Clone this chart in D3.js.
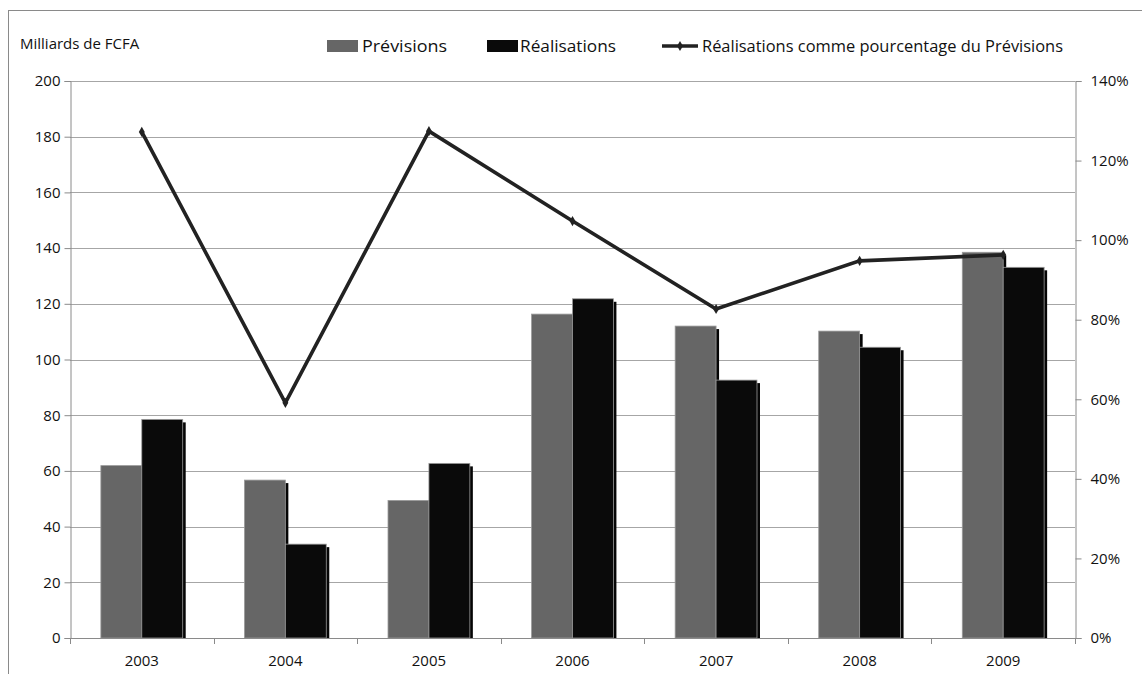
<!DOCTYPE html>
<html>
<head>
<meta charset="utf-8">
<script src="https://cdn.jsdelivr.net/npm/d3@7"></script>
<style>
  html, body { margin: 0; padding: 0; background: #fff; }
  svg text { font-family: "Open Sans", "DejaVu Sans", sans-serif; fill: #111; }
</style>
</head>
<body>
<svg id="chart" width="1142" height="674"></svg>
<script>
// Budget forecasts vs. outturn, billions of FCFA
const years = ["2003", "2004", "2005", "2006", "2007", "2008", "2009"];
const previsions = [61.9, 56.7, 49.4, 116.3, 112.0, 110.2, 138.5];
const realisations = [78.5, 33.7, 62.7, 121.8, 92.6, 104.4, 133.1];
// Outturn as a share of forecast
const pourcentage = [1.272, 0.591, 1.274, 1.048, 0.827, 0.948, 0.963];

const leftTicks = [0, 20, 40, 60, 80, 100, 120, 140, 160, 180, 200];
const rightTicks = [0, 0.2, 0.4, 0.6, 0.8, 1.0, 1.2, 1.4];

const svg = d3.select("#chart");
const W = 1142, H = 674;
const m = { left: 70, right: 1075, top: 81, bottom: 638 };

// outer frame
svg.append("rect")
  .attr("x", 8.5).attr("y", 10.5)
  .attr("width", W + 10).attr("height", H + 10)
  .attr("fill", "none").attr("stroke", "#8a8a8a").attr("stroke-width", 1);

const x = d3.scaleBand().domain(years).range([m.left, m.right]).paddingInner(0).paddingOuter(0);
const y = d3.scaleLinear().domain([0, 200]).range([m.bottom, m.top]);
const yR = d3.scaleLinear().domain([0, 1.4]).range([m.bottom, m.top]);

// gridlines
svg.append("g")
  .selectAll("line").data(leftTicks.slice(1)).join("line")
  .attr("x1", m.left).attr("x2", m.right)
  .attr("y1", d => Math.round(y(d)) + 0.5).attr("y2", d => Math.round(y(d)) + 0.5)
  .attr("stroke", "#a6a6a6").attr("stroke-width", 1);

// bars
const gap = 0.215; // fraction of band on each side
const barW = x.bandwidth() * (1 - 2 * gap) / 2;
const defs = svg.append("defs");
defs.append("clipPath").attr("id", "plotclip")
  .append("rect").attr("x", m.left).attr("y", 0).attr("width", m.right - m.left).attr("height", m.bottom + 1);

const barsG = svg.append("g").attr("clip-path", "url(#plotclip)");
const series = [
  { vals: previsions, color: "#666666", off: 0 },
  { vals: realisations, color: "#0a0a0a", off: 1 }
];
// drop shadows first
series.forEach(s => {
  barsG.append("g").selectAll("rect").data(s.vals).join("rect")
    .attr("x", (d, i) => x(years[i]) + x.bandwidth() * gap + s.off * barW + 3)
    .attr("y", d => y(d) + 3)
    .attr("width", barW)
    .attr("height", d => m.bottom - y(d))
    .attr("fill", "#050505");
});
series.forEach(s => {
  barsG.append("g").selectAll("rect").data(s.vals).join("rect")
    .attr("x", (d, i) => x(years[i]) + x.bandwidth() * gap + s.off * barW)
    .attr("y", d => y(d))
    .attr("width", barW)
    .attr("height", d => m.bottom - y(d))
    .attr("fill", s.color)
    .attr("stroke", "#9a9a9a").attr("stroke-width", 0.8);
});

// axes
const axL = svg.append("g").attr("transform", `translate(${m.left + 0.5},0)`)
  .call(d3.axisLeft(y).tickValues(leftTicks).tickSize(6).tickPadding(4).tickFormat(d3.format("d")));
const axR = svg.append("g").attr("transform", `translate(${m.right + 0.5},0)`)
  .call(d3.axisRight(yR).tickValues(rightTicks).tickSize(6).tickPadding(9).tickFormat(d => Math.round(d * 100) + "%"));
const axB = svg.append("g").attr("transform", `translate(0,${m.bottom + 0.5})`)
  .call(d3.axisBottom(x).tickSize(0).tickPadding(17));
// category separators on the x axis
svg.append("g").selectAll("line").data(d3.range(years.length + 1)).join("line")
  .attr("x1", i => Math.round(m.left + i * x.step()) + 0.5)
  .attr("x2", i => Math.round(m.left + i * x.step()) + 0.5)
  .attr("y1", m.bottom).attr("y2", m.bottom + 6)
  .attr("stroke", "#8a8a8a");

[axL, axR, axB].forEach(a => {
  a.selectAll("path, line").attr("stroke", "#8a8a8a");
  a.selectAll("text").style("font-size", "15px").attr("fill", "#111");
  a.select(".domain").attr("stroke", "#8a8a8a");
});
axB.select(".domain").attr("d", `M${m.left},0H${m.right}`);

// percentage line
const line = d3.line().x((d, i) => x(years[i]) + x.bandwidth() / 2).y(d => yR(d));
svg.append("path").datum(pourcentage)
  .attr("d", line).attr("fill", "none")
  .attr("stroke", "#222").attr("stroke-width", 3.6).attr("stroke-linejoin", "miter");
svg.append("g").selectAll("path").data(pourcentage).join("path")
  .attr("d", d3.symbol().type(d3.symbolDiamond).size(30))
  .attr("transform", (d, i) => `translate(${x(years[i]) + x.bandwidth() / 2},${yR(d)})`)
  .attr("fill", "#222");

// unit label
svg.append("text").attr("x", 20).attr("y", 49).style("font-size", "15px").text("Milliards de FCFA");

// legend
const lg = svg.append("g");
const legText = (xPos, w, t) => lg.append("text").attr("x", xPos).attr("y", 52)
  .style("font-size", "16px").attr("textLength", w).attr("lengthAdjust", "spacingAndGlyphs").text(t);
lg.append("rect").attr("x", 327).attr("y", 40).attr("width", 31).attr("height", 12).attr("fill", "#666666");
legText(362, 85, "Prévisions");
lg.append("rect").attr("x", 487).attr("y", 40).attr("width", 31).attr("height", 12).attr("fill", "#0a0a0a");
legText(520, 96, "Réalisations");
lg.append("line").attr("x1", 662).attr("x2", 698).attr("y1", 46).attr("y2", 46)
  .attr("stroke", "#222").attr("stroke-width", 3.6);
lg.append("path").attr("d", d3.symbol().type(d3.symbolDiamond).size(30))
  .attr("transform", "translate(680,46)").attr("fill", "#222");
legText(702, 361, "Réalisations comme pourcentage du Prévisions");
</script>
</body>
</html>
